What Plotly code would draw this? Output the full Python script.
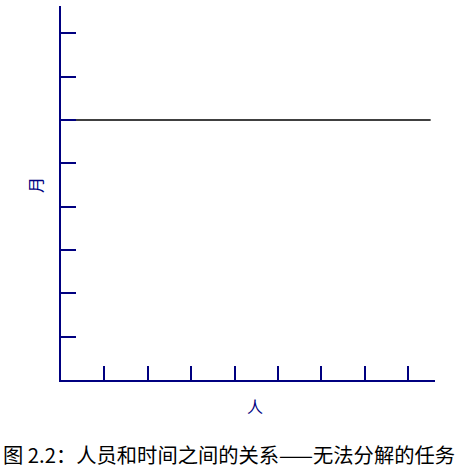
import plotly.graph_objects as go

# Data
x_ticks = [1, 2, 3, 4, 5, 6, 7, 8]
y_ticks = [1, 2, 3, 4, 5, 6, 7, 8]
line_x = [0, 8.52]
line_y = [6, 6]
x_label = "人"
y_label = "月"
caption = "图 2.2：人员和时间之间的关系——无法分解的任务"

navy = "#000080"

fig = go.Figure()
fig.add_trace(go.Scatter(x=line_x, y=line_y, mode="lines",
                         line=dict(color="black", width=1.5),
                         hoverinfo="skip", showlegend=False, cliponaxis=False))

axis_common = dict(showline=True, linecolor=navy, linewidth=1.5,
                   showgrid=False, zeroline=False, ticks="inside",
                   tickcolor=navy, tickwidth=1.5, showticklabels=False)

fig.update_layout(
    width=458, height=468,
    margin=dict(l=61, r=23, t=6, b=88),
    plot_bgcolor="white", paper_bgcolor="white",
    xaxis=dict(range=[0, 8.62], tickvals=x_ticks, ticklen=14, **axis_common),
    yaxis=dict(range=[0, 8.63], tickvals=y_ticks, ticklen=15, **axis_common),
    font=dict(family="Noto Sans CJK SC"),
    annotations=[
        dict(text=x_label, xref="paper", yref="paper", x=(255 - 61) / 374, y=-(406 - 380) / 374,
             showarrow=False, xanchor="center", yanchor="middle",
             font=dict(size=16, color=navy, family="Noto Sans CJK SC")),
        dict(text=y_label, xref="paper", yref="paper", x=-(61 - 35) / 374, y=(380 - 185) / 374,
             showarrow=False, xanchor="center", yanchor="middle", textangle=-90,
             font=dict(size=16, color=navy, family="Noto Sans CJK SC")),
        dict(text=caption, xref="paper", yref="paper", x=(229 - 61) / 374, y=-(454 - 380) / 374,
             showarrow=False, xanchor="center", yanchor="middle", borderpad=0,
             font=dict(size=20.3, color="black", family="Noto Sans CJK SC")),
    ],
)

fig.write_html("out.html", config={"displayModeBar": False},
               post_script="document.body.style.margin='0';document.body.style.overflow='hidden';")
